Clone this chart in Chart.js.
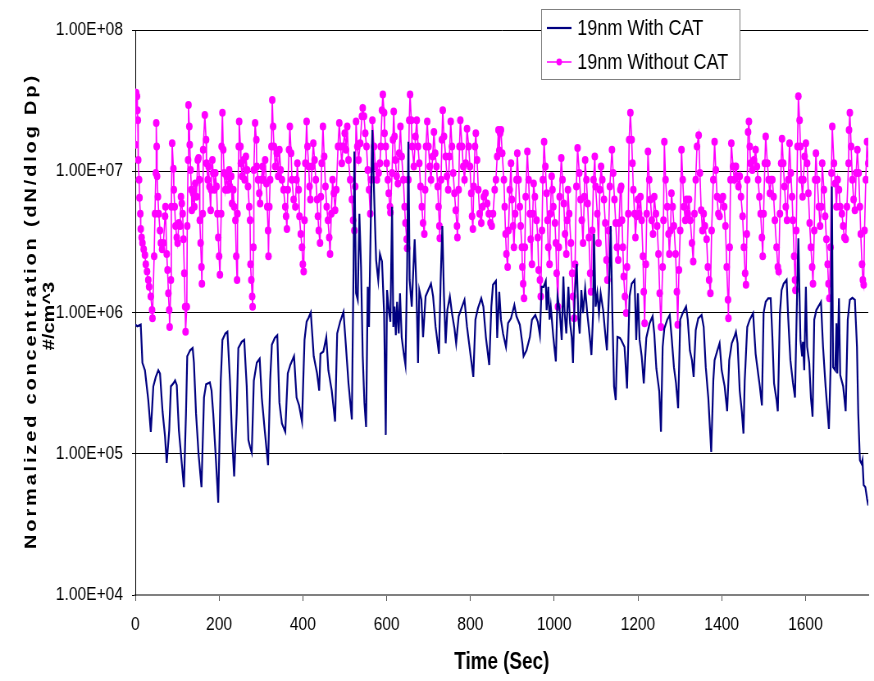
<!DOCTYPE html>
<html>
<head>
<meta charset="utf-8">
<title>19nm concentration vs time</title>
<script src="https://cdn.jsdelivr.net/npm/chart.js@4/dist/chart.umd.min.js"></script>
<style>
  html, body { margin: 0; padding: 0; background: #fff; overflow: hidden; }
  /* the original picture is squeezed horizontally, so draw wide and squeeze */
  #wrap { width: 1066px; height: 681px; transform: scaleX(0.8199); transform-origin: 0 0; }
</style>
</head>
<body>
<div id="wrap"><canvas id="chart" width="1066" height="681"></canvas></div>
<script>
// ===== DATA =====

const seriesNames = ['19nm With CAT', '19nm Without CAT'];
const xTitle = 'Time (Sec)';
const yTitle = ['Normalized concentration (dN/dlog Dp)', '#/cm^3'];
const timeTicks = [0, 200, 400, 600, 800, 1000, 1200, 1400, 1600];
const concTicks = [1e4, 1e5, 1e6, 1e7, 1e8];

// [time (s), concentration]
const withCat = [
  [0, 8.2e5], [5, 8.0e5], [13, 8.2e5], [17, 4.4e5], [23, 3.9e5], [31, 2.4e5], [37, 1.43e5], [43, 3.0e5], [49, 3.5e5], [55, 3.9e5],
  [59, 3.7e5], [65, 2.0e5], [71, 1.32e5], [75, 8.6e4], [81, 1.47e5], [85, 3.0e5], [91, 3.15e5], [95, 3.3e5], [99, 3.06e5], [104, 1.47e5],
  [111, 8.5e4], [116, 5.8e4], [121, 1.93e5], [124, 4.9e5], [131, 5.4e5], [137, 5.6e5], [140, 4.4e5], [145, 1.93e5], [151, 1.0e5], [158, 5.8e4],
  [164, 2.5e5], [169, 3.1e5], [178, 3.2e5], [182, 2.8e5], [186, 1.93e5], [193, 8.5e4], [198, 4.5e4], [204, 3.3e5], [208, 6.4e5], [215, 7.1e5],
  [220, 7.3e5], [226, 3.3e5], [231, 1.32e5], [236, 6.9e4], [242, 1.93e5], [246, 5.6e5], [254, 6.2e5], [260, 6.4e5], [266, 3.0e5], [270, 1.25e5],
  [274, 1.12e5], [278, 1.02e5], [283, 3.3e5], [290, 4.4e5], [297, 4.7e5], [302, 2.5e5], [309, 1.47e5], [317, 8.3e4], [322, 3.3e5], [326, 5.9e5],
  [333, 6.6e5], [339, 6.9e5], [344, 2.3e5], [350, 1.64e5], [358, 1.43e5], [364, 3.7e5], [370, 4.25e5], [379, 4.9e5], [385, 2.5e5], [391, 2.2e5],
  [398, 1.69e5], [404, 6.4e5], [409, 8.6e5], [414, 9.2e5], [419, 1.0e6], [426, 4.9e5], [434, 3.7e5], [439, 2.8e5], [442, 5.1e5], [449, 5.3e5],
  [456, 6.7e5], [461, 3.9e5], [469, 2.8e5], [477, 1.69e5], [482, 7.1e5], [489, 8.6e5], [497, 1.01e6], [503, 5.7e5], [509, 3.15e5], [517, 1.75e5],
  [521, 2.1e6], [523, 1.38e7], [527, 1.37e6], [531, 1.23e6], [535, 5.0e6], [539, 2.1e6], [543, 4.9e5], [547, 2.3e5], [551, 1.55e5], [555, 1.52e6],
  [558, 7.9e5], [562, 4.1e6], [566, 1.96e7], [571, 5.6e6], [575, 2.35e6], [580, 1.7e6], [584, 2.6e6], [589, 2.3e6], [594, 9.9e5], [598, 1.36e5],
  [601, 1.44e6], [606, 9.9e5], [609, 8.6e5], [613, 5.6e6], [616, 7.9e5], [619, 1.1e6], [622, 6.9e5], [625, 1.19e6], [629, 7.1e5], [632, 1.37e6],
  [636, 6.7e5], [641, 5.1e5], [645, 4.25e5], [649, 2.1e6], [652, 1.62e7], [655, 1.7e6], [660, 1.1e6], [664, 2.1e6], [667, 3.3e6], [671, 1.52e6],
  [675, 4.4e5], [678, 1.44e6], [683, 1.23e6], [687, 6.7e5], [693, 1.3e6], [701, 1.48e6], [706, 1.6e6], [711, 1.3e6], [717, 7.9e5], [725, 5.1e5],
  [729, 1.7e6], [733, 4.1e6], [737, 1.3e6], [741, 6.05e5], [745, 1.04e6], [751, 1.3e6], [756, 9.9e5], [762, 7.7e5], [766, 6.05e5], [772, 9.4e5],
  [780, 1.1e6], [786, 1.23e6], [792, 7.9e5], [799, 5.4e5], [807, 3.5e5], [812, 8.9e5], [818, 1.07e6], [826, 1.26e6], [831, 1.1e6], [837, 6.7e5],
  [845, 4.25e5], [850, 1.1e6], [854, 1.57e6], [861, 1.67e6], [864, 6.6e5], [869, 1.4e6], [873, 8.9e5], [878, 7.1e5], [885, 5.7e5], [890, 8.4e5],
  [897, 9.1e5], [905, 1.13e6], [910, 9.4e5], [918, 8.2e5], [924, 6.05e5], [927, 4.9e5], [934, 5.4e5], [942, 6.7e5], [947, 8.9e5], [955, 9.6e5],
  [961, 8.6e5], [966, 6.9e5], [970, 1.52e6], [975, 1.52e6], [980, 1.67e6], [982, 1.04e6], [986, 1.52e6], [989, 8.9e5], [992, 1.1e6], [998, 6.7e5],
  [1004, 4.5e5], [1008, 1.3e6], [1013, 1.04e6], [1018, 6.4e5], [1022, 1.8e6], [1025, 9.9e5], [1029, 7.1e5], [1034, 1.52e6], [1038, 8.4e5], [1042, 6.7e5],
  [1045, 4.4e5], [1049, 1.3e6], [1054, 2.2e6], [1058, 8.9e5], [1061, 7.1e5], [1065, 1.44e6], [1069, 9.9e5], [1074, 1.48e6], [1079, 9.9e5], [1085, 6.7e5],
  [1089, 5.0e5], [1093, 9.9e5], [1095, 3.6e6], [1099, 1.1e6], [1103, 1.37e6], [1107, 9.9e5], [1111, 1.37e6], [1117, 1.04e6], [1122, 7.1e5], [1126, 5.4e5],
  [1131, 1.44e6], [1135, 4.1e6], [1139, 9.9e5], [1143, 3.0e5], [1147, 2.4e5], [1151, 6.7e5], [1157, 6.6e5], [1160, 6.4e5], [1168, 5.7e5], [1174, 2.9e5],
  [1180, 1.3e6], [1185, 1.6e6], [1192, 1.7e6], [1196, 6.4e5], [1200, 1.37e6], [1204, 6.4e5], [1209, 4.9e5], [1214, 3.15e5], [1220, 6.6e5], [1228, 8.4e5],
  [1235, 9.4e5], [1239, 7.1e5], [1244, 4.0e5], [1251, 2.75e5], [1255, 1.43e5], [1259, 5.7e5], [1263, 7.7e5], [1270, 8.9e5], [1276, 9.6e5], [1281, 6.4e5],
  [1286, 4.1e5], [1291, 3.15e5], [1296, 2.1e5], [1301, 8.9e5], [1307, 9.9e5], [1315, 1.1e6], [1319, 8.9e5], [1324, 5.4e5], [1329, 4.6e5], [1333, 3.5e5],
  [1338, 7.5e5], [1344, 9.1e5], [1352, 9.6e5], [1357, 7.9e5], [1362, 4.1e5], [1368, 2.5e5], [1375, 1.03e5], [1380, 3.3e5], [1383, 4.6e5], [1389, 5.3e5],
  [1395, 6.05e5], [1400, 3.9e5], [1407, 3.0e5], [1413, 2.0e5], [1418, 4.6e5], [1424, 6.05e5], [1430, 6.7e5], [1434, 7.3e5], [1438, 6.05e5], [1443, 2.8e5],
  [1448, 2.0e5], [1452, 1.39e5], [1455, 3.3e5], [1461, 7.9e5], [1467, 8.9e5], [1475, 9.9e5], [1481, 5.1e5], [1487, 3.7e5], [1491, 3.0e5], [1496, 2.2e5],
  [1500, 9.9e5], [1505, 1.19e6], [1511, 1.26e6], [1517, 1.26e6], [1521, 6.7e5], [1525, 3.15e5], [1531, 2.4e5], [1534, 2.0e5], [1539, 9.9e5], [1543, 1.44e6],
  [1548, 1.6e6], [1555, 1.7e6], [1559, 8.9e5], [1564, 4.6e5], [1570, 3.2e5], [1575, 2.5e5], [1579, 9.9e5], [1583, 3.35e6], [1588, 6.4e5], [1592, 4.9e5],
  [1594, 6.2e5], [1597, 3.9e5], [1601, 1.52e6], [1604, 5.7e5], [1609, 4.4e5], [1613, 2.5e5], [1617, 1.83e5], [1621, 8.9e5], [1626, 1.04e6], [1633, 1.13e6],
  [1637, 1.19e6], [1642, 5.7e5], [1648, 3.0e5], [1656, 1.5e5], [1660, 4.1e5], [1663, 7.8e6], [1666, 4.1e5], [1671, 3.9e5], [1674, 8.4e5], [1676, 3.7e5],
  [1680, 1.26e6], [1683, 3.6e5], [1690, 3.0e5], [1696, 2.0e5], [1701, 8.9e5], [1706, 1.23e6], [1712, 1.27e6], [1718, 1.23e6], [1723, 5.7e5], [1726, 1.93e5],
  [1730, 9.0e4], [1734, 8.5e4], [1736, 9.0e4], [1739, 6.0e4], [1743, 5.8e4], [1747, 4.8e4], [1750, 4.3e4]
];

const withoutCat = [
  [0, 1.54e7], [2, 3.6e7], [4, 3.4e7], [5, 2.7e7], [6, 2.3e7], [7, 1.2e7], [9, 8.7e6], [10, 6.5e6], [12, 5.0e6], [13, 3.9e6],
  [15, 3.4e6], [17, 3.1e6], [20, 2.8e6], [23, 2.55e6], [25, 2.2e6], [28, 1.95e6], [31, 1.7e6], [33, 1.52e6], [37, 1.3e6], [40, 1.04e6], [41, 9.1e5],
  [45, 2.5e6], [47, 5.0e6], [49, 9.7e6], [50, 2.2e7], [51, 1.5e7], [52, 9.2e6], [54, 6.6e6], [56, 5.0e6], [59, 3.8e6], [61, 3.1e6],
  [64, 2.8e6], [67, 3.1e6], [71, 4.8e6], [72, 5.6e6], [75, 2.6e6], [77, 2.0e6], [79, 1.37e6], [81, 1.04e6], [82, 7.9e5],
  [85, 1.7e6], [86, 5.6e6], [88, 1.58e7], [91, 1.04e7], [92, 7.4e6], [94, 5.6e6], [96, 4.1e6], [99, 3.4e6], [101, 3.1e6], [104, 4.3e6],
  [107, 4.1e6], [109, 6.6e6], [111, 5.9e6], [113, 5.0e6], [115, 3.3e6], [117, 1.9e6], [119, 1.1e6], [120, 7.3e5],
  [123, 1.1e6], [124, 4.1e6], [126, 1.2e7], [127, 2.95e7], [129, 2.07e7], [130, 1.54e7], [132, 1.02e7], [134, 7.4e6], [135, 5.3e6], [138, 7.0e6],
  [141, 5.6e6], [143, 8.2e6], [146, 6.6e6], [149, 1.2e7], [151, 1.24e7], [153, 8.7e6], [154, 4.5e6], [156, 3.1e6], [158, 2.1e6], [159, 1.6e6],
  [161, 5.0e6], [162, 1.42e7], [166, 2.5e7], [169, 1.67e7], [170, 1.14e7], [173, 8.7e6], [175, 1.08e7], [177, 7.8e6], [180, 5.3e6], [181, 7.4e6],
  [184, 1.2e7], [186, 9.7e6], [189, 7.4e6], [191, 9.7e6], [194, 7.8e6], [196, 5.0e6], [198, 3.4e6], [200, 2.5e6], [202, 1.85e6],
  [205, 5.0e6], [206, 1.5e7], [208, 2.6e7], [210, 1.42e7], [212, 9.7e6], [215, 7.4e6], [218, 9.2e6], [221, 7.4e6], [224, 1.02e7], [226, 7.8e6],
  [229, 9.2e6], [231, 5.9e6], [234, 7.4e6], [236, 5.6e6], [239, 4.5e6], [241, 2.5e6], [243, 1.7e6],
  [244, 5.0e6], [247, 1.5e7], [248, 2.25e7], [251, 1.5e7], [252, 1.14e7], [255, 9.2e6], [258, 1.2e7], [261, 8.7e6], [264, 1.27e7], [267, 1.02e7],
  [269, 7.8e6], [272, 5.6e6], [274, 4.5e6], [275, 2.2e6], [277, 1.7e6], [279, 1.3e6], [280, 1.1e6],
  [282, 2.9e6], [283, 1.02e7], [286, 2.2e7], [289, 1.67e7], [290, 1.08e7], [293, 8.7e6], [296, 7.0e6], [298, 5.9e6], [301, 8.7e6], [304, 1.08e7],
  [306, 8.7e6], [310, 1.2e7], [313, 8.2e6], [315, 5.6e6], [317, 3.8e6], [318, 2.5e6],
  [320, 5.6e6], [322, 8.7e6], [325, 1.5e7], [327, 3.2e7], [329, 2.07e7], [331, 1.5e7], [334, 1.08e7], [338, 1.34e7], [341, 9.2e6], [344, 1.42e7],
  [347, 1.02e7], [350, 8.7e6], [354, 7.4e6], [358, 5.6e6], [360, 4.8e6], [362, 3.9e6],
  [364, 7.4e6], [367, 1.42e7], [369, 2.07e7], [372, 1.34e7], [374, 8.7e6], [378, 6.3e6], [382, 5.6e6], [385, 8.7e6], [387, 1.14e7], [390, 7.4e6],
  [392, 4.8e6], [395, 3.6e6], [398, 2.9e6], [400, 2.2e6], [402, 1.95e6],
  [404, 4.5e6], [406, 1.14e7], [409, 2.25e7], [411, 1.5e7], [414, 1.08e7], [416, 7.8e6], [418, 6.3e6], [422, 1.08e7], [425, 1.58e7], [428, 1.2e7],
  [431, 8.7e6], [434, 6.3e6], [436, 4.8e6], [438, 3.8e6], [441, 3.1e6],
  [443, 6.6e6], [445, 1.14e7], [448, 2.07e7], [451, 1.27e7], [454, 7.8e6], [457, 5.6e6], [460, 4.5e6], [463, 3.4e6], [465, 2.6e6], [468, 5.0e6],
  [471, 8.7e6], [474, 7.0e6], [477, 5.3e6], [480, 7.4e6], [484, 1.5e7], [487, 2.2e7], [490, 1.5e7], [493, 1.14e7], [496, 1.5e7], [500, 1.86e7],
  [503, 1.42e7], [506, 2.07e7], [509, 1.2e7], [513, 8.7e6], [517, 6.3e6], [520, 4.5e6], [523, 3.8e6],
  [525, 7.8e6], [527, 2.25e7], [530, 1.5e7], [533, 1.2e7], [537, 1.58e7], [541, 2.45e7], [543, 2.8e7], [546, 2.45e7], [549, 1.86e7], [552, 1.5e7],
  [555, 1.02e7], [558, 7.4e6], [561, 5.0e6], [563, 8.7e6], [566, 2.3e7], [570, 1.5e7], [573, 1.08e7], [577, 8.7e6], [581, 9.7e6], [584, 1.14e7],
  [586, 1.5e7], [589, 2.7e7], [591, 3.5e7], [594, 2.6e7], [595, 1.86e7], [598, 1.5e7], [600, 1.14e7], [603, 8.7e6], [605, 7.0e6], [608, 5.6e6], [609, 5.1e6],
  [613, 9.7e6], [615, 1.67e7], [617, 2.65e7], [619, 1.76e7], [621, 1.2e7], [624, 9.2e6], [627, 8.2e6], [630, 1.34e7], [633, 2.07e7], [636, 1.27e7],
  [640, 8.7e6], [643, 5.6e6], [645, 4.3e6], [648, 3.3e6], [649, 2.85e6],
  [652, 8.7e6], [654, 2.3e7], [656, 3.5e7], [659, 2.3e7], [661, 1.5e7], [665, 1.08e7], [669, 1.76e7], [672, 2.3e7], [675, 1.5e7], [678, 1.14e7],
  [681, 7.8e6], [684, 5.6e6], [687, 4.3e6], [690, 3.6e6],
  [692, 7.4e6], [694, 1.5e7], [697, 2.25e7], [700, 1.5e7], [703, 1.08e7], [706, 8.7e6], [710, 1.27e7], [713, 1.9e7], [716, 1.34e7], [719, 1.08e7],
  [722, 7.8e6], [724, 5.6e6], [726, 4.1e6], [727, 3.35e6],
  [730, 8.7e6], [732, 1.67e7], [734, 2.7e7], [737, 1.76e7], [741, 1.27e7], [744, 9.2e6], [747, 7.4e6], [750, 1.27e7], [753, 2.25e7], [756, 1.5e7],
  [759, 9.7e6], [762, 7.0e6], [765, 5.3e6], [768, 4.1e6], [769, 3.4e6],
  [772, 7.4e6], [774, 1.5e7], [776, 2.3e7], [780, 1.5e7], [783, 1.08e7], [786, 8.7e6], [789, 1.14e7], [792, 2.0e7], [796, 1.5e7], [799, 1.08e7],
  [802, 7.0e6], [804, 4.8e6], [806, 3.9e6],
  [808, 7.8e6], [811, 1.5e7], [813, 1.86e7], [816, 1.2e7], [819, 7.4e6], [822, 5.0e6], [826, 4.3e6], [829, 5.6e6], [832, 6.6e6], [836, 7.0e6],
  [840, 5.9e6], [844, 5.0e6], [848, 4.3e6], [851, 4.1e6], [854, 5.0e6], [858, 7.4e6], [861, 8.7e6], [864, 1.27e7], [867, 1.96e7], [869, 1.4e7],
  [871, 1.86e7], [873, 1.96e7], [876, 1.34e7], [880, 8.7e6], [882, 5.6e6], [884, 3.6e6], [886, 2.6e6], [889, 2.1e6],
  [891, 3.8e6], [894, 7.4e6], [897, 1.14e7], [899, 6.3e6], [902, 4.1e6], [904, 2.9e6],
  [907, 5.0e6], [910, 8.7e6], [912, 1.34e7], [915, 8.7e6], [918, 5.6e6], [920, 4.1e6], [923, 2.9e6], [924, 2.1e6], [926, 1.6e6], [928, 1.26e6],
  [930, 2.9e6], [932, 6.6e6], [936, 1.38e7], [939, 8.7e6], [942, 5.0e6], [944, 3.3e6], [947, 2.2e6], [949, 5.0e6], [951, 8.2e6], [954, 6.6e6],
  [958, 4.5e6], [961, 3.4e6], [963, 2.0e6], [966, 1.7e6], [968, 1.3e6],
  [971, 3.8e6], [973, 8.7e6], [976, 1.62e7], [979, 1.08e7], [982, 7.0e6], [984, 4.5e6], [986, 2.9e6], [989, 2.2e6], [991, 5.0e6], [994, 9.2e6],
  [996, 7.4e6], [998, 5.6e6], [1002, 4.3e6], [1004, 3.1e6], [1006, 1.9e6], [1009, 1.1e6],
  [1011, 2.9e6], [1013, 6.6e6], [1017, 1.24e7], [1020, 8.7e6], [1023, 5.9e6], [1026, 3.6e6], [1029, 2.6e6], [1031, 4.5e6], [1033, 7.4e6], [1036, 5.0e6],
  [1040, 3.1e6], [1043, 1.9e6], [1045, 1.3e6], [1048, 9.1e5],
  [1050, 2.2e6], [1053, 7.8e6], [1056, 1.46e7], [1060, 9.7e6], [1063, 6.3e6], [1066, 4.5e6], [1069, 3.1e6], [1072, 6.6e6], [1074, 1.2e7], [1077, 8.7e6],
  [1080, 5.9e6], [1083, 3.4e6], [1086, 1.9e6], [1088, 1.4e6],
  [1091, 3.8e6], [1094, 8.7e6], [1097, 1.27e7], [1099, 7.8e6], [1103, 5.0e6], [1106, 3.1e6], [1109, 7.4e6], [1112, 1.08e7], [1115, 8.7e6], [1119, 6.3e6],
  [1122, 4.3e6], [1125, 2.35e6], [1127, 1.7e6],
  [1130, 3.8e6], [1133, 7.8e6], [1138, 1.42e7], [1141, 9.7e6], [1144, 6.3e6], [1147, 4.3e6], [1150, 2.9e6], [1153, 2.35e6], [1155, 4.3e6], [1158, 7.4e6],
  [1160, 7.8e6], [1162, 4.5e6], [1164, 2.9e6], [1166, 1.8e6], [1169, 1.3e6], [1172, 9.9e5],
  [1174, 2.1e6], [1177, 5.0e6], [1179, 1.67e7], [1182, 2.6e7], [1185, 1.67e7], [1187, 1.14e7], [1189, 7.4e6], [1192, 5.0e6], [1194, 3.4e6], [1197, 4.8e6],
  [1200, 6.3e6], [1203, 5.0e6], [1206, 6.6e6], [1209, 4.5e6], [1212, 2.5e6], [1214, 1.4e6], [1216, 8.4e5],
  [1219, 2.2e6], [1221, 5.0e6], [1224, 1.38e7], [1227, 8.7e6], [1230, 6.3e6], [1233, 4.5e6], [1236, 3.6e6], [1239, 6.6e6], [1243, 5.0e6], [1246, 4.1e6],
  [1249, 2.6e6], [1252, 1.37e6], [1255, 7.9e5],
  [1259, 2.1e6], [1261, 4.5e6], [1263, 1.62e7], [1266, 8.7e6], [1270, 5.6e6], [1273, 3.6e6], [1275, 2.6e6], [1278, 3.8e6], [1280, 7.0e6], [1283, 5.6e6],
  [1286, 4.1e6], [1290, 2.6e6], [1293, 1.4e6], [1295, 8.2e5],
  [1298, 2.0e6], [1301, 3.8e6], [1304, 1.42e7], [1307, 8.7e6], [1310, 5.6e6], [1313, 4.5e6], [1316, 6.3e6], [1319, 5.0e6], [1322, 6.3e6], [1325, 4.5e6],
  [1329, 3.1e6], [1332, 2.3e6],
  [1335, 5.0e6], [1338, 8.7e6], [1341, 1.5e7], [1345, 1.8e7], [1348, 9.7e6], [1351, 5.3e6], [1354, 3.8e6], [1357, 5.0e6], [1360, 4.1e6], [1364, 3.3e6],
  [1367, 2.1e6], [1370, 1.7e6], [1373, 1.37e6],
  [1376, 3.8e6], [1380, 8.7e6], [1383, 1.62e7], [1386, 1.02e7], [1389, 6.6e6], [1392, 5.0e6], [1395, 4.8e6], [1399, 6.3e6], [1403, 6.6e6], [1406, 5.6e6],
  [1409, 4.1e6], [1412, 2.1e6], [1415, 1.23e6], [1416, 9.1e5],
  [1419, 2.9e6], [1421, 8.7e6], [1423, 1.58e7], [1427, 1.08e7], [1430, 8.7e6], [1434, 1.08e7], [1437, 9.2e6], [1440, 7.8e6], [1443, 9.2e6], [1446, 6.6e6],
  [1450, 4.8e6], [1453, 2.9e6], [1456, 1.9e6], [1458, 1.57e6],
  [1460, 3.6e6], [1461, 8.7e6], [1463, 1.9e7], [1465, 2.25e7], [1467, 1.5e7], [1469, 1.14e7], [1473, 1.02e7], [1477, 1.2e7], [1481, 1.42e7], [1484, 1.08e7],
  [1487, 8.7e6], [1490, 6.6e6], [1493, 5.0e6], [1496, 3.4e6], [1498, 2.5e6],
  [1500, 5.0e6], [1503, 1.14e7], [1505, 1.76e7], [1509, 1.14e7], [1512, 8.7e6], [1515, 7.0e6], [1518, 8.7e6], [1521, 8.7e6], [1524, 6.6e6], [1527, 4.5e6],
  [1531, 2.9e6], [1534, 2.1e6], [1536, 1.95e6],
  [1539, 5.0e6], [1542, 1.14e7], [1544, 1.7e7], [1547, 1.14e7], [1550, 7.8e6], [1553, 5.6e6], [1556, 4.5e6], [1559, 8.7e6], [1562, 1.58e7], [1565, 9.7e6],
  [1568, 6.6e6], [1570, 4.5e6], [1573, 2.5e6], [1575, 1.7e6], [1576, 1.44e6],
  [1578, 3.8e6], [1581, 1.5e7], [1583, 3.4e7], [1586, 2.3e7], [1588, 1.5e7], [1590, 8.7e6], [1593, 6.6e6], [1595, 8.7e6], [1598, 1.27e7], [1601, 1.58e7],
  [1604, 1.14e7], [1607, 7.0e6], [1610, 4.3e6], [1613, 2.9e6], [1616, 2.1e6], [1618, 1.6e6],
  [1621, 3.8e6], [1623, 8.7e6], [1625, 1.34e7], [1628, 8.7e6], [1632, 5.6e6], [1635, 4.1e6], [1638, 5.6e6], [1640, 1.14e7], [1644, 7.4e6], [1647, 4.8e6],
  [1650, 3.3e6], [1653, 2.2e6], [1655, 1.6e6], [1657, 1.26e6],
  [1660, 2.9e6], [1662, 9.7e6], [1664, 2.07e7], [1668, 1.14e7], [1671, 8.2e6], [1674, 5.6e6], [1677, 8.7e6], [1680, 7.4e6], [1683, 5.6e6], [1687, 5.0e6],
  [1690, 4.1e6], [1693, 3.4e6], [1696, 3.3e6],
  [1699, 5.6e6], [1703, 1.14e7], [1704, 1.96e7], [1706, 2.6e7], [1709, 1.5e7], [1712, 8.7e6], [1715, 6.3e6], [1718, 5.3e6], [1721, 9.7e6], [1724, 1.42e7],
  [1727, 9.7e6], [1730, 5.6e6], [1732, 3.6e6], [1735, 2.2e6], [1737, 1.7e6], [1739, 1.57e6],
  [1741, 3.8e6], [1744, 8.7e6], [1747, 1.62e7], [1750, 1.14e7]
];

// ===== STYLE =====

const FONT = '"Liberation Sans", Arial, Helvetica, sans-serif';
const NAVY = '#000080';
const MAGENTA = '#ff00ff';

Chart.defaults.font.family = FONT;
Chart.defaults.color = '#000';

function sciLabel(v) {
  const e = Math.round(Math.log10(v));
  return '1.00E+' + String(e).padStart(2, '0');
}

// axis titles + legend box, drawn on top like the Excel original
const overlay = {
  id: 'overlay',
  afterDraw(chart) {
    const ctx = chart.ctx;
    const area = chart.chartArea;
    ctx.save();
    ctx.fillStyle = '#000';
    ctx.textAlign = 'center';
    ctx.textBaseline = 'middle';

    ctx.font = 'bold 23px ' + FONT;
    ctx.fillText(xTitle, (area.left + area.right) / 2, 663);

    ctx.save();
    ctx.translate(38, 311);
    ctx.rotate(-Math.PI / 2);
    ctx.font = 'bold 20px ' + FONT;
    const plain = ctx.measureText(yTitle[0]).width;
    const gap = Math.max(0, (473 - plain) / (yTitle[0].length - 1));
    ctx.letterSpacing = gap.toFixed(2) + 'px';
    ctx.fillText(yTitle[0], 0, 0);
    ctx.letterSpacing = '0px';
    ctx.fillText(yTitle[1], -5, 22);
    ctx.restore();

    // legend
    const bx = 660.5, by = 9.5, bw = 242, bh = 70;
    ctx.fillStyle = '#fff';
    ctx.fillRect(bx, by, bw, bh);
    ctx.strokeStyle = '#808080';
    ctx.lineWidth = 1;
    ctx.strokeRect(bx, by, bw, bh);

    const rows = [
      { y: 28, color: NAVY, width: 2.2, dot: false },
      { y: 62, color: MAGENTA, width: 1.5, dot: true }
    ];
    ctx.textAlign = 'left';
    ctx.font = '22px ' + FONT;
    rows.forEach((r, i) => {
      ctx.strokeStyle = r.color;
      ctx.lineWidth = r.width;
      ctx.beginPath();
      ctx.moveTo(667, r.y);
      ctx.lineTo(697, r.y);
      ctx.stroke();
      if (r.dot) {
        ctx.fillStyle = r.color;
        ctx.beginPath();
        ctx.arc(682, r.y, 3.4, 0, Math.PI * 2);
        ctx.fill();
      }
      ctx.fillStyle = '#000';
      ctx.fillText(seriesNames[i], 704, r.y + 1);
    });
    ctx.restore();
  }
};

const ctx = document.getElementById('chart').getContext('2d');
new Chart(ctx, {
  type: 'scatter',
  data: {
    datasets: [
      {
        label: seriesNames[0],
        data: withCat.map(([x, y]) => ({ x, y })),
        showLine: true,
        borderColor: NAVY,
        backgroundColor: NAVY,
        borderWidth: 2.2,
        pointRadius: 0,
        tension: 0
      },
      {
        label: seriesNames[1],
        data: withoutCat.map(([x, y]) => ({ x, y })),
        showLine: true,
        borderColor: MAGENTA,
        backgroundColor: MAGENTA,
        borderWidth: 1.6,
        pointRadius: 4,
        pointBorderWidth: 0,
        pointBackgroundColor: MAGENTA,
        tension: 0
      }
    ]
  },
  options: {
    responsive: false,
    animation: false,
    devicePixelRatio: 1,
    layout: { padding: { left: 0, right: 7, top: 30, bottom: 0 } },
    plugins: {
      legend: { display: false },
      tooltip: { enabled: false }
    },
    scales: {
      x: {
        type: 'linear',
        min: 0,
        max: 1750,
        afterBuildTicks(scale) { scale.ticks = timeTicks.map(v => ({ value: v })); },
        afterFit(scale) { scale.height = 86; },
        ticks: {
          font: { size: 19 },
          color: '#000',
          padding: 12,
          maxRotation: 0,
          autoSkip: false,
          callback: v => String(v)
        },
        grid: { drawOnChartArea: false, drawTicks: true, tickLength: 6, tickColor: '#555' },
        border: { color: '#808080', width: 2 }
      },
      y: {
        type: 'logarithmic',
        min: 1e4,
        max: 1e8,
        afterBuildTicks(scale) { scale.ticks = concTicks.map(v => ({ value: v })); },
        afterFit(scale) { scale.width = 165; },
        ticks: {
          font: { size: 19 },
          color: '#000',
          padding: 11,
          autoSkip: false,
          callback: v => sciLabel(v)
        },
        grid: {
          color: c => (c.tick && c.tick.value === 1e4) ? 'rgba(0,0,0,0)' : '#000',
          lineWidth: 1,
          drawTicks: true,
          tickLength: 4,
          tickColor: '#000'
        },
        border: { color: '#000', width: 1 }
      }
    }
  },
  plugins: [overlay]
});
</script>
</body>
</html>
